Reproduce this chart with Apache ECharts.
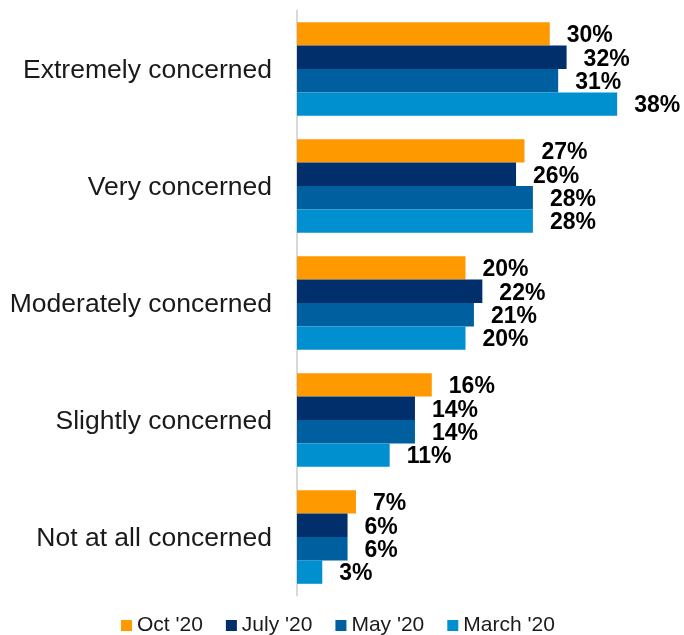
<!DOCTYPE html>
<html>
<head>
<meta charset="utf-8">
<script src="https://cdn.jsdelivr.net/npm/echarts@6/dist/echarts.min.js"></script>
<style>
  html, body { margin: 0; padding: 0; background: #ffffff; }
  #chart { width: 684px; height: 635px; }
</style>
</head>
<body>
<div id="chart"></div>
<script>
// Level of concern, share of respondents (%) per survey wave
const categories = [
  'Extremely concerned',
  'Very concerned',
  'Moderately concerned',
  'Slightly concerned',
  'Not at all concerned'
];
const seriesNames = ["Oct '20", "July '20", "May '20", "March '20"];
const oct20   = [30, 27, 20, 16, 7];
const july20  = [32, 26, 22, 14, 6];
const may20   = [31, 28, 21, 14, 6];
const march20 = [38, 28, 20, 11, 3];
const colors = ['#FF9900', '#002F6C', '#005F9F', '#008FCF'];

const values = [oct20, july20, may20, march20];

const chart = echarts.init(document.getElementById('chart'));

chart.setOption({
  animation: false,
  backgroundColor: '#ffffff',
  grid: { left: 297, top: 10.5, width: 337, height: 585 },
  xAxis: {
    type: 'value',
    min: 0,
    max: 40,
    show: false
  },
  yAxis: {
    type: 'category',
    data: categories,
    inverse: true,
    axisTick: { show: false },
    axisLine: { show: true, lineStyle: { color: '#d9d9d9', width: 2 } },
    axisLabel: {
      margin: 25,
      formatter: (v) => '{c|' + v + '}',
      rich: {
        c: {
          padding: [4, 0, 0, 0],
          fontFamily: 'Liberation Sans, Arial, sans-serif',
          fontSize: 26.5,
          color: '#1a1a1a'
        }
      }
    }
  },
  legend: {
    data: seriesNames,
    left: 121,
    top: 615,
    padding: 0,
    itemWidth: 11,
    itemHeight: 11,
    itemGap: 23,
    icon: 'rect',
    textStyle: {
      fontFamily: 'Liberation Sans, Arial, sans-serif',
      fontSize: 21,
      color: '#1a1a1a'
    }
  },
  series: seriesNames.map((name, i) => ({
    name: name,
    type: 'bar',
    data: values[i],
    barGap: '0%',
    barCategoryGap: '20%',
    itemStyle: { color: colors[i] },
    label: {
      show: true,
      position: 'right',
      distance: 17,
      offset: [0, 2],
      formatter: '{c}%',
      fontFamily: 'Liberation Sans, Arial, sans-serif',
      fontWeight: 'bold',
      fontSize: 23,
      color: '#000000'
    }
  }))
});
</script>
</body>
</html>
